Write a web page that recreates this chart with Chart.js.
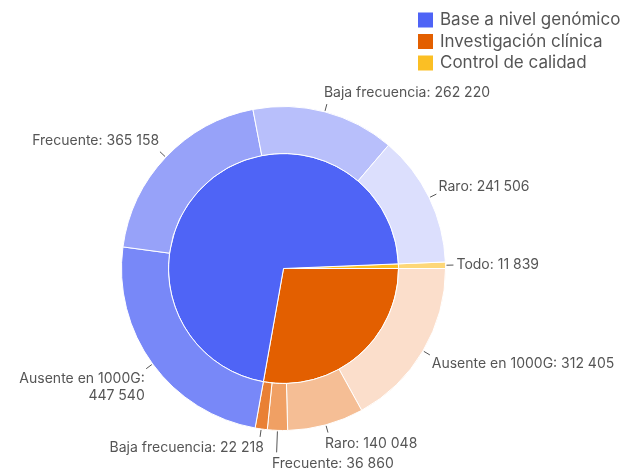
<!DOCTYPE html>
<html>
<head>
<meta charset="utf-8">
<script src="https://cdn.jsdelivr.net/npm/chart.js@4.4.1/dist/chart.umd.min.js"></script>
<style>
    html, body { margin: 0; padding: 0; background: #fff; }
    #wrap { width: 624px; height: 474px; position: relative; }
</style>
</head>
<body>
<div id="wrap"><canvas id="sunburst"></canvas></div>
<script>
// categories
var groups = ['Base a nivel genómico', 'Investigación clínica', 'Control de calidad'];

// children of each category
var baseLabels = ['Ausente en 1000G', 'Frecuente', 'Baja frecuencia', 'Raro'];
var baseValues = [447540, 365158, 262220, 241506];

var clinicLabels = ['Ausente en 1000G', 'Raro', 'Frecuente', 'Baja frecuencia'];
var clinicValues = [312405, 140048, 36860, 22218];

var qcLabels = ['Todo'];
var qcValues = [11839];

// colours
var groupColors = ['#4f64f6', '#e35f00', '#fbbf24'];
var baseColors = ['#7888f8', '#97a2f9', '#b8bffb', '#dcdffd'];
var clinicColors = ['#fbdecb', '#f5be95', '#f0a064', '#e98034'];
var qcColors = ['#fdd778'];

(function () {
    function sum(arr) {
        return arr.reduce(function (a, b) { return a + b; }, 0);
    }

    function fmt(v) {
        return String(v).replace(/\B(?=(\d{3})+(?!\d))/g, ' ');
    }

    // clockwise order round the ring: Control, Investigación, Base
    var innerLabels = [groups[2], groups[1], groups[0]];
    var innerValues = [sum(qcValues), sum(clinicValues), sum(baseValues)];
    var innerColors = [groupColors[2], groupColors[1], groupColors[0]];

    var outerLabels = qcLabels.concat(clinicLabels, baseLabels);
    var outerValues = qcValues.concat(clinicValues, baseValues);
    var outerColors = qcColors.concat(clinicColors, baseColors);

    var total = sum(innerValues);
    var rotation = 90 - 360 * innerValues[0] / total;

    var textColor = '#555555';
    var labelFont = '14px Inter';
    var lineH = 17;

    var sunburstLabels = {
        id: 'sunburstLabels',
        afterDatasetsDraw: function (chart) {
            var ctx = chart.ctx;
            var meta = chart.getDatasetMeta(0);
            var placed = [];

            ctx.save();
            ctx.font = labelFont;
            ctx.fillStyle = textColor;
            ctx.strokeStyle = textColor;
            ctx.lineWidth = 1;
            ctx.textBaseline = 'middle';

            meta.data.forEach(function (arc, i) {
                var p = arc.getProps(['x', 'y', 'startAngle', 'endAngle', 'outerRadius'], true);
                var mid = (p.startAngle + p.endAngle) / 2;
                var cos = Math.cos(mid);
                var sin = Math.sin(mid);
                var left = cos > -0.05;
                var dx = 8 * Math.abs(cos) - 5;
                var dy = Math.max(-11, Math.min(11, 17 * sin));
                var lines = [outerLabels[i] + ': ' + fmt(outerValues[i])];

                function layout(extra) {
                    var r = p.outerRadius + 8 + extra;
                    var ex = p.x + r * cos;
                    var ey = p.y + r * sin;
                    var w = 0;
                    lines.forEach(function (l) { w = Math.max(w, ctx.measureText(l).width); });
                    var tx = left ? ex + dx : ex - dx;
                    var x0 = left ? tx : tx - w;
                    var cy = ey + dy;
                    return {
                        ex: ex, ey: ey, tx: tx, cy: cy,
                        box: [x0, cy - 8, x0 + w, cy + 8 + (lines.length - 1) * lineH]
                    };
                }

                var lay = layout(0);
                if (lay.box[0] < 2 || lay.box[2] > chart.width - 2) {
                    var parts = lines[0].split(': ');
                    lines = [parts[0] + ':', parts[1]];
                    lay = layout(0);
                }

                function hits(b) {
                    return placed.some(function (q) {
                        return b[0] < q[2] + 3 && b[2] > q[0] - 3 && b[1] < q[3] + 3 && b[3] > q[1] - 3;
                    });
                }

                var extra = 0;
                while (hits(lay.box) && extra < 80) {
                    extra += 1;
                    lay = layout(extra);
                }
                placed.push(lay.box);

                ctx.beginPath();
                ctx.moveTo(p.x + (p.outerRadius + 1) * cos, p.y + (p.outerRadius + 1) * sin);
                ctx.lineTo(lay.ex, lay.ey);
                ctx.stroke();

                ctx.textAlign = left ? 'left' : 'right';
                lines.forEach(function (l, k) {
                    ctx.fillText(l, lay.tx, lay.cy + k * lineH);
                });
            });

            ctx.restore();
        }
    };

    var sideLegend = {
        id: 'sideLegend',
        afterDraw: function (chart) {
            var ctx = chart.ctx;
            ctx.save();
            ctx.font = '17px Inter';
            ctx.textBaseline = 'middle';
            ctx.textAlign = 'left';
            groups.forEach(function (g, i) {
                var cy = 19.5 + i * 21.5;
                ctx.fillStyle = groupColors[i];
                ctx.fillRect(418, cy - 7, 15, 15);
                ctx.fillStyle = textColor;
                ctx.fillText(g, 440, cy + 0.5);
            });
            ctx.restore();
        }
    };

    new Chart(document.getElementById('sunburst'), {
        type: 'doughnut',
        data: {
            labels: outerLabels,
            datasets: [{
                label: 'Detalle',
                data: outerValues,
                backgroundColor: outerColors,
                borderColor: '#ffffff',
                borderWidth: 1,
                weight: 47
            }, {
                label: 'Categoría',
                data: innerValues,
                backgroundColor: innerColors,
                borderColor: '#ffffff',
                borderWidth: 1,
                weight: 115
            }]
        },
        options: {
            responsive: true,
            maintainAspectRatio: false,
            animation: false,
            events: [],
            cutout: 0,
            rotation: rotation,
            layout: { padding: { left: 121, right: 178, top: 106, bottom: 43 } },
            plugins: {
                legend: { display: false },
                tooltip: { enabled: false }
            }
        },
        plugins: [sunburstLabels, sideLegend]
    });
})();
</script>
</body>
</html>
